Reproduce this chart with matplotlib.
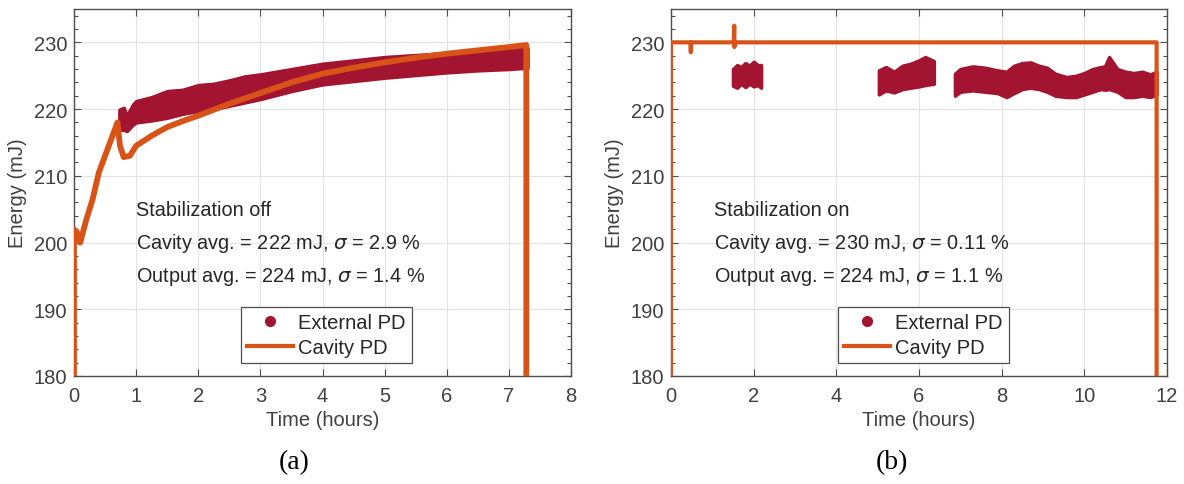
import numpy as np
import matplotlib.pyplot as plt
from matplotlib.lines import Line2D

# -----------------------------
# Data (a): stabilization off
# -----------------------------
cav_off_t = [0.0, 0.0, 0.05, 0.1, 0.2, 0.3, 0.4, 0.5, 0.6, 0.7, 0.74, 0.8, 0.9,
             1.0, 1.25, 1.5, 1.75, 2.0, 2.5, 3.0, 3.5, 4.0, 4.5, 5.0, 5.5,
             6.0, 6.5, 7.0, 7.28, 7.28]
cav_off_e = [180, 202, 201.5, 200, 203.5, 206.5, 210.5, 213, 215.5, 218, 214.5,
             212.8, 213, 214.5, 216, 217.3, 218.2, 219, 220.8, 222.4, 224,
             225.3, 226.2, 227, 227.7, 228.3, 228.8, 229.3, 229.6, 180]

ext_off_t = [0.73, 0.8, 0.85, 0.95, 1.0, 1.25, 1.5, 1.75, 2.0, 2.25, 2.5, 2.75,
             3.0, 3.5, 4.0, 4.5, 5.0, 5.5, 6.0, 6.5, 7.0, 7.3]
ext_off_hi = [219.9, 220.2, 219.0, 220.7, 221.2, 221.8, 222.7, 222.9, 223.6,
              223.8, 224.3, 224.9, 225.2, 226.0, 226.8, 227.3, 227.8, 228.1,
              228.4, 228.7, 229.0, 229.1]
ext_off_lo = [216.9, 216.9, 216.7, 217.7, 218.0, 218.3, 218.7, 219.3, 219.7,
              220.0, 220.5, 221.0, 221.5, 222.7, 223.7, 224.2, 224.7, 225.1,
              225.5, 225.8, 226.0, 226.2]

# -----------------------------
# Data (b): stabilization on
# -----------------------------
cav_on_t = [0.0, 0.0, 0.47, 0.48, 0.49, 1.52, 1.53, 1.535, 1.54, 11.75, 11.75]
cav_on_e = [180, 230, 230, 228.5, 230, 230, 232.5, 229.3, 230, 230, 180]

ext_on_segments = [
    ([1.5, 1.6, 1.7, 1.8, 1.9, 2.0, 2.1, 2.18],
     [226.0, 226.6, 226.3, 226.9, 226.5, 227.1, 226.6, 226.6],
     [223.5, 223.2, 223.8, 223.3, 223.8, 223.4, 223.6, 223.2]),
    ([5.03, 5.2, 5.4, 5.6, 5.8, 6.0, 6.15, 6.36],
     [225.8, 226.3, 225.6, 226.5, 226.8, 227.3, 227.8, 227.2],
     [222.2, 222.8, 222.5, 223.0, 223.2, 223.4, 223.6, 223.8]),
    ([6.87, 7.0, 7.3, 7.6, 7.9, 8.12, 8.3, 8.5, 8.7, 8.9, 9.1, 9.3, 9.57,
      9.8, 10.0, 10.2, 10.4, 10.5, 10.6, 10.8, 11.0, 11.2, 11.4, 11.6, 11.75],
     [225.3, 226.0, 226.4, 226.2, 225.8, 225.6, 226.5, 226.9, 227.0, 226.5,
      226.2, 225.3, 224.8, 225.0, 225.4, 226.0, 226.3, 226.4, 227.8, 226.0,
      225.6, 225.4, 225.6, 225.2, 225.6],
     [222.0, 222.6, 222.8, 222.6, 222.4, 221.8, 222.4, 223.0, 223.2, 223.0,
      222.6, 222.0, 221.8, 221.8, 222.2, 222.6, 223.0, 222.9, 223.0, 222.6,
      221.8, 221.8, 222.0, 221.8, 222.2]),
]

texts_off = ["Stabilization off",
             r"Cavity avg. = 222 mJ, $\sigma$ = 2.9 %",
             r"Output avg. = 224 mJ, $\sigma$ = 1.4 %"]
texts_on = ["Stabilization on",
            r"Cavity avg. = 230 mJ, $\sigma$ = 0.11 %",
            r"Output avg. = 224 mJ, $\sigma$ = 1.1 %"]

C_EXT = "#A2142F"
C_CAV = "#D95319"
C_AX = "#4d4d4d"
C_TXT = "#262626"

plt.rcParams["font.family"] = ["Liberation Sans", "DejaVu Sans"]
plt.rcParams["mathtext.fontset"] = "dejavusans"

fig = plt.figure(figsize=(11.84, 4.85), dpi=100)
ax1 = fig.add_axes([0.0625, 0.2227, 0.4198, 0.7567])
ax2 = fig.add_axes([0.5667, 0.2227, 0.4189, 0.7567])


def style(ax, xmax, xstep):
    ax.set_xlim(0, xmax)
    ax.set_ylim(180, 235)
    ax.set_xticks(np.arange(0, xmax + 0.1, xstep))
    ax.set_yticks([180, 190, 200, 210, 220, 230])
    ax.set_yticks(np.arange(180, 235, 2), minor=True)
    ax.grid(True, which="major", color="#e3e3e3", lw=0.8)
    ax.set_axisbelow(True)
    ax.tick_params(which="both", direction="in", top=True, right=True,
                   colors=C_AX, labelcolor="#404040", labelsize=14.5)
    ax.tick_params(which="major", length=5, width=0.8)
    ax.tick_params(axis="x", which="major", pad=7)
    ax.tick_params(axis="y", which="major", pad=5)
    ax.tick_params(which="minor", length=3, width=0.8, top=False, bottom=False)
    for s in ax.spines.values():
        s.set_color(C_AX)
        s.set_linewidth(1.0)
    ax.set_xlabel("Time (hours)", fontsize=14.5, color="#404040", labelpad=4)
    ax.set_ylabel("Energy (mJ)", fontsize=14.5, color="#404040", labelpad=5)


def add_legend(ax):
    handles = [Line2D([], [], ls="none", marker="o", ms=7, color=C_EXT),
               Line2D([], [], color=C_CAV, lw=3)]
    leg = ax.legend(handles, ["External PD", "Cavity PD"], loc="lower left",
                    bbox_to_anchor=(0.336, 0.035), borderaxespad=0,
                    fontsize=14.5, fancybox=False, framealpha=1,
                    edgecolor=C_AX, handlelength=2.3, handletextpad=0.25,
                    labelspacing=0.3, borderpad=0.3)
    leg.get_frame().set_linewidth(0.9)
    for t in leg.get_texts():
        t.set_color(C_TXT)


# (a)
style(ax1, 8, 1)
ax1.fill_between(ext_off_t, ext_off_lo, ext_off_hi, color=C_EXT, lw=2.5,
                 edgecolor=C_EXT, zorder=2)
ax1.plot(cav_off_t, cav_off_e, color=C_CAV, lw=4.2, zorder=3,
         solid_joinstyle="round")
for txt, y in zip(texts_off, [205, 200, 195]):
    ax1.text(1.0, y, txt, fontsize=14.3, color=C_TXT, va="center")
add_legend(ax1)

# (b)
style(ax2, 12, 2)
for t, hi, lo in ext_on_segments:
    ax2.fill_between(t, lo, hi, color=C_EXT, lw=2.5, edgecolor=C_EXT, zorder=2)
ax2.plot(cav_on_t, cav_on_e, color=C_CAV, lw=3, zorder=3)
for txt, y in zip(texts_on, [205, 200, 195]):
    ax2.text(1.05, y, txt, fontsize=14.3, color=C_TXT, va="center")
add_legend(ax2)

fig.text(294 / 1184, 1 - 463 / 485, "(a)", fontsize=20, ha="center",
         va="center", family="Liberation Serif", color="black")
fig.text(892 / 1184, 1 - 463 / 485, "(b)", fontsize=20, ha="center",
         va="center", family="Liberation Serif", color="black")

fig.savefig("out.png", dpi=100)
